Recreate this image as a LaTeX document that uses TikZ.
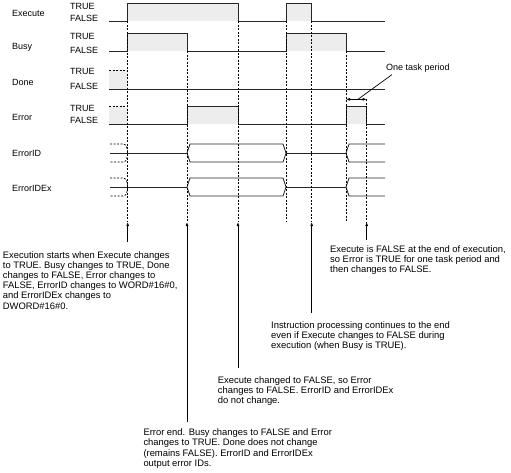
\documentclass[tikz,border=0pt]{standalone}
\usepackage{fontspec}
\setmainfont{Liberation Sans}
\usetikzlibrary{arrows.meta}
\tikzset{>={Latex[length=4pt,width=3pt]}}
\colorlet{hifill}{black!7}
\colorlet{wave}{black!85}

\begin{document}
\begin{tikzpicture}[x=1pt,y=-1pt,
    sig/.style={wave,line width=0.8pt},
    guide/.style={black,line width=0.7pt,dash pattern=on 2pt off 1.5pt},
    lab/.style={inner sep=0pt,anchor=west,font=\fontsize{9}{10}\selectfont},
    note/.style={inner sep=0pt,anchor=base west,align=left,font=\fontsize{9.4}{10.1}\selectfont}]
  \useasboundingbox (0,0) rectangle (511,472);
  % signal names
  \node[lab] (execute) at (12,13) {Execute};
  \node[lab] (busy) at (12,47) {Busy};
  \node[lab] (done) at (12,82) {Done};
  \node[lab] (error) at (12,117) {Error};
  \node[lab] (errorid) at (12,153) {ErrorID};
  \node[lab] (erroridex) at (12,188) {ErrorIDEx};
  % TRUE / FALSE
  \foreach \n/\t/\f in {ex/6/18.5, bu/36.5/50.5, do/71/86, er/108/120} {
    \node[lab] (\n-true) at (70,\t) {TRUE};
    \node[lab] (\n-false) at (70,\f) {FALSE};
  }
  % Execute
  \fill[hifill] (127.7,3) rectangle (238,21);
  \fill[hifill] (286,3) rectangle (311.7,21);
  \draw[sig] (109,21) -| (127.7,3) -| (238,21) -| (286,3) -| (311.7,21) -- (385,21);
  % Busy
  \fill[hifill] (127.7,33) rectangle (187,51);
  \fill[hifill] (286,33) rectangle (346,51);
  \draw[sig] (109,51) -| (127.7,33) -| (187,51) -| (286,33) -| (346,51) -- (385,51);
  % Done
  \fill[hifill] (109,70) rectangle (127.7,89);
  \draw[guide] (109,70) -- (127.7,70);
  \draw[sig] (109,89) -- (385,89);
  % Error
  \fill[hifill] (109,106.5) rectangle (127.7,124);
  \fill[hifill] (187,106.5) rectangle (238,124);
  \fill[hifill] (346,106.5) rectangle (366.7,124);
  \draw[guide] (109,106.5) -- (127.7,106.5);
  \draw[sig] (109,124) -| (187,106.5) -| (238,124) -| (346,106.5) -| (366.7,124) -- (385,124);
  % ErrorID, ErrorIDEx
  \foreach \y in {153,187} {
    \draw[guide] (110,\y-9) -- (123,\y-9) .. controls (126.5,\y-8) .. (127.7,\y)
      .. controls (126.5,\y+8) .. (123,\y+9) -- (110,\y+9);
    \draw[sig] (110,\y) -- (187,\y);
    \draw[sig] (187,\y) -- (190,\y-9) -- (283,\y-9) -- (286,\y) -- (283,\y+9) -- (190,\y+9) -- cycle;
    \draw[sig] (286,\y) -- (346,\y);
    \draw[sig] (385,\y-9) -- (349,\y-9) -- (346,\y) -- (349,\y+9) -- (385,\y+9);
  }
  % one task period
  \node[lab] (period) at (386,67.7) {One task period};
  \coordinate (dim) at (358,99.3);
  \draw[black,line width=0.7pt,<->] (346,99.3) -- (366.7,99.3);
  \draw[black,line width=0.7pt] (dim) -- ([shift={(6,2.5)}]period.south west);
  % events
  \foreach \i/\t/\y/\f in {1/127.7/21/242, 2/187/51/422, 3/238/21/368, 4/311.7/21/313, 5/366.7/99.3/240} {
    \coordinate (e\i) at (\t,222);
    \coordinate (f\i) at (\t,\f);
    \draw[guide] (\t,\y) -- (e\i);
    \draw[black,line width=0.9pt,->] (f\i) -- (e\i);
  }
  \draw[guide] (286,21) -- (286,222);
  \draw[guide] (346,51) -- (346,222);
  % notes (base = last line)
  \node[note] (n1) at (2.7,309) {Execution starts when Execute changes\\to TRUE. Busy changes to TRUE, Done\\changes to FALSE, Error changes to\\FALSE, ErrorID changes to WORD\#16\#0,\\and ErrorIDEx changes to\\DWORD\#16\#0.};
  \node[note] (n5) at (330,272.7) {Execute is FALSE at the end of execution,\\so Error is TRUE for one task period and\\then changes to FALSE.};
  \node[note] (n4) at (271,348.7) {Instruction processing continues to the end\\even if Execute changes to FALSE during\\execution (when Busy is TRUE).};
  \node[note] (n3) at (217.7,403.7) {Execute changed to FALSE, so Error\\changes to FALSE. ErrorID and ErrorIDEx\\do not change.};
  \node[note] (n2) at (143.3,466.1) {Error end. Busy changes to FALSE and Error\\changes to TRUE. Done does not change\\(remains FALSE). ErrorID and ErrorIDEx\\output error IDs.};
\end{tikzpicture}
\end{document}
